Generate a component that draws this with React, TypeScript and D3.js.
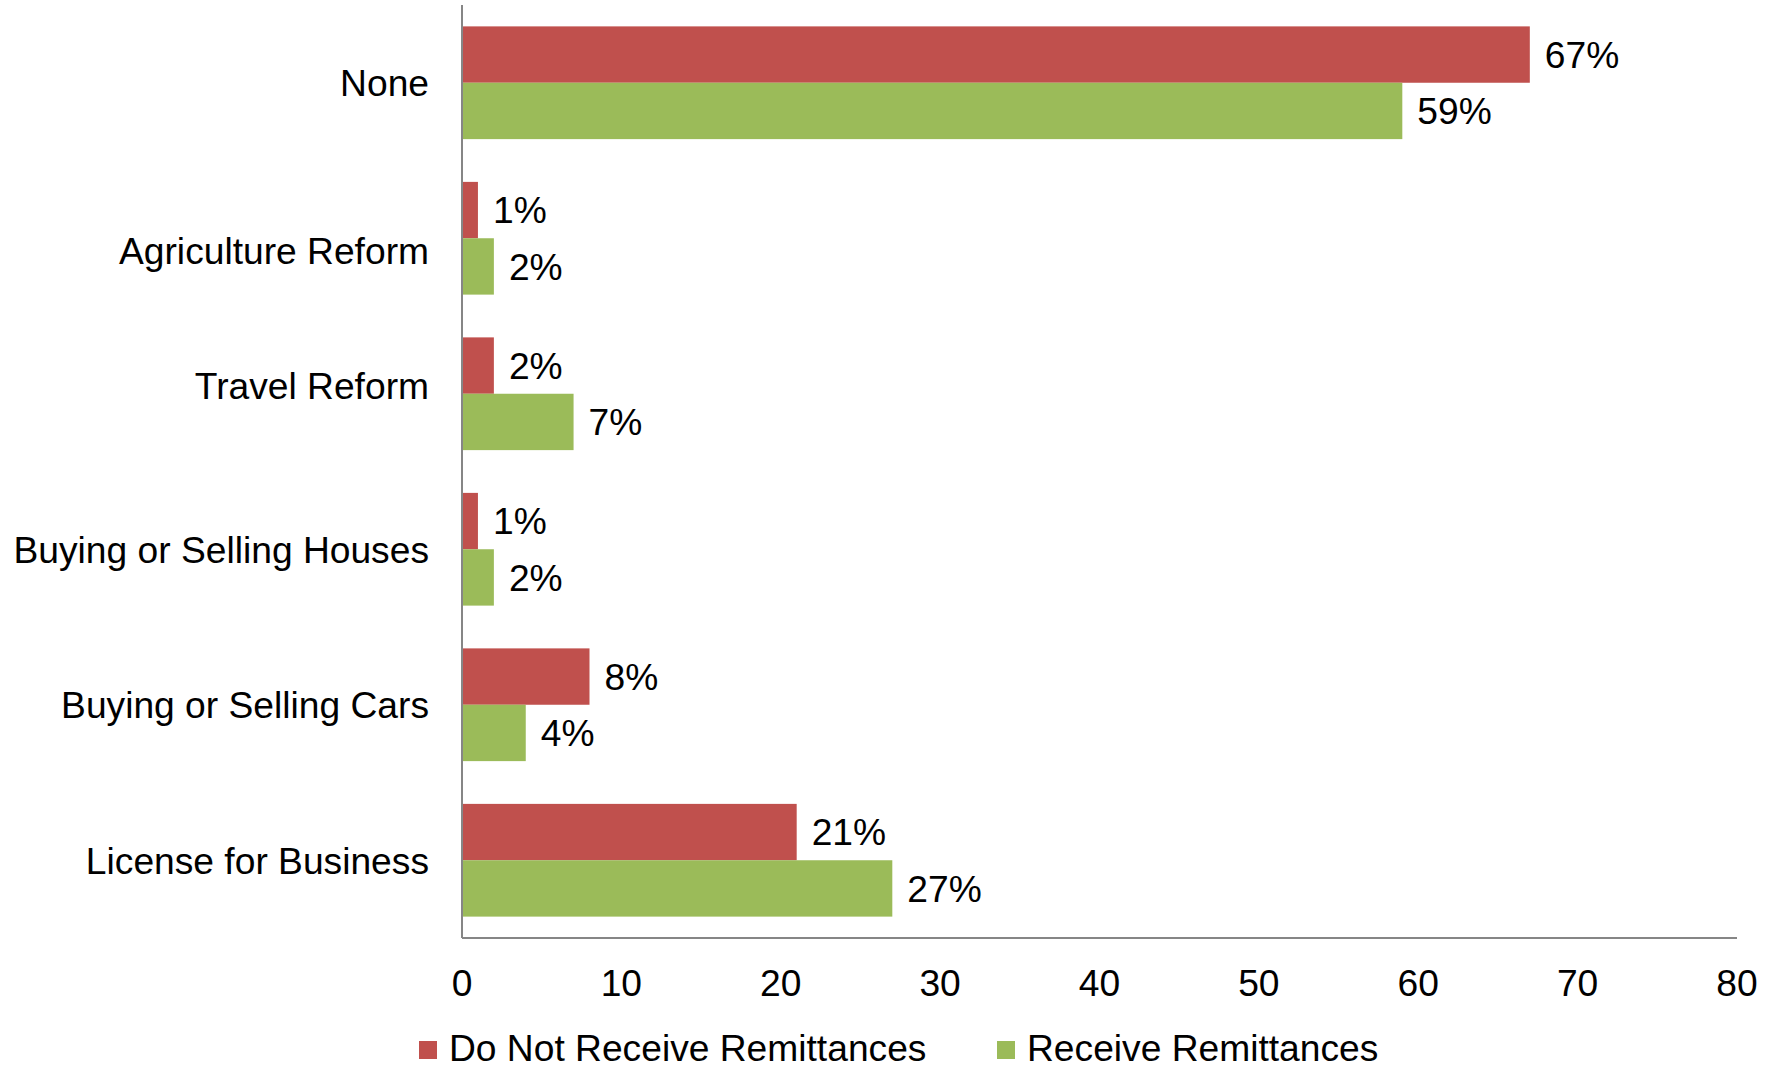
import React from "react";
import * as d3 from "d3";

const categories = [
  "None",
  "Agriculture Reform",
  "Travel Reform",
  "Buying or Selling Houses",
  "Buying or Selling Cars",
  "License for Business",
];
const seriesNames = ["Do Not Receive Remittances", "Receive Remittances"];
const doNotReceive = [67, 1, 2, 1, 8, 21];
const receive = [59, 2, 7, 2, 4, 27];
const xTicks = [0, 10, 20, 30, 40, 50, 60, 70, 80];
const colors = ["#C0504D", "#9BBB59"];

// small vertical nudges of category labels as seen in the original layout
const labelNudge = [0, 12, -8, 0, 0, 0];

const W = 1777;
const H = 1068;
const FONT = "'Liberation Sans', Arial, sans-serif";

export default function App() {
  const x = d3.scaleLinear().domain([0, 80]).range([462, 1737]);
  const y = d3
    .scaleBand<string>()
    .domain(categories)
    .range([5, 938])
    .paddingInner(0.275)
    .paddingOuter(0.1375);
  const sub = d3.scaleBand<number>().domain([0, 1]).range([0, y.bandwidth()]);
  const series = [doNotReceive, receive];
  const fs = 37.2;

  return (
    <svg
      width={W}
      height={H}
      style={{ position: "absolute", left: 0, top: 0, background: "#fff" }}
      fontFamily={FONT}
    >
      {categories.map((c, i) => (
        <g key={c}>
          {series.map((s, k) => {
            const yy = (y(c) as number) + (sub(k) as number);
            const h = sub.bandwidth();
            return (
              <g key={k}>
                <rect
                  x={x(0)}
                  y={yy}
                  width={x(s[i]) - x(0)}
                  height={h}
                  fill={colors[k]}
                />
                <text
                  x={x(s[i]) + 15}
                  y={yy + h / 2}
                  dy="0.36em"
                  fontSize={fs}
                  fill="#000"
                >
                  {s[i]}%
                </text>
              </g>
            );
          })}
          <text
            x={429}
            y={(y(c) as number) + y.bandwidth() / 2 + labelNudge[i]}
            dy="0.36em"
            textAnchor="end"
            fontSize={fs}
            fill="#000"
          >
            {c}
          </text>
        </g>
      ))}
      <line x1={x(0)} x2={x(0)} y1={5} y2={938} stroke="#868686" strokeWidth={2} />
      <line x1={x(0)} x2={x(80)} y1={938} y2={938} stroke="#868686" strokeWidth={2} />
      {xTicks.map((t) => (
        <text
          key={t}
          x={x(t)}
          y={996}
          textAnchor="middle"
          fontSize={fs}
          fill="#000"
        >
          {t}
        </text>
      ))}
      {seriesNames.map((n, k) => {
        const lx = k === 0 ? 419 : 997;
        return (
          <g key={n}>
            <rect x={lx} y={1041} width={18} height={18} fill={colors[k]} />
            <text x={lx + 30} y={1061} fontSize={fs} fill="#000">
              {n}
            </text>
          </g>
        );
      })}
    </svg>
  );
}
